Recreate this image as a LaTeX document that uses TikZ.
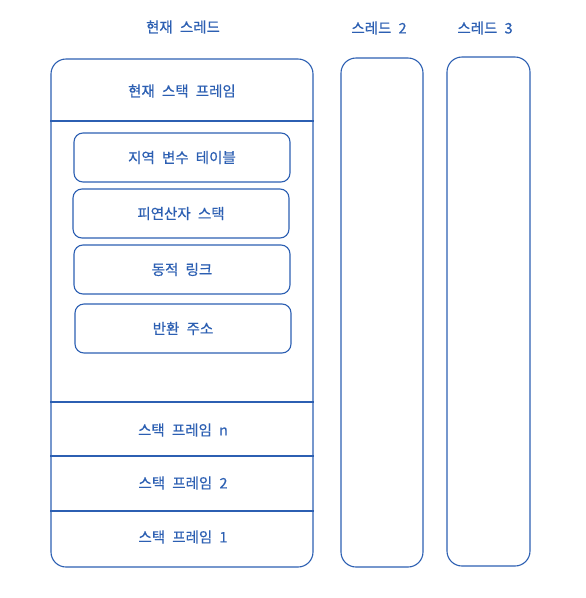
\documentclass[tikz,border=0pt]{standalone}
\usepackage{fontspec}
\newfontfamily\krfont[FakeBold=0.5,WordSpace=2.2]{Noto Sans CJK KR}
\definecolor{lineblue}{RGB}{44,95,178}

\begin{document}
\begin{tikzpicture}[x=1pt,y=-1pt,
    lbl/.style={text=lineblue,font=\krfont\fontsize{14.5}{16}\selectfont},
    thread/.style={draw=lineblue,line width=1.1pt,rounded corners=15pt,inner sep=0pt},
    part/.style={draw=lineblue,line width=1.1pt,rounded corners=9pt,inner sep=0pt,
        minimum width=216pt,minimum height=49pt,text=lineblue,
        font=\krfont\fontsize{14.5}{16}\selectfont}]
    \useasboundingbox (0,0) rectangle (586,598);

    % Titles
    \node (t1) [lbl] at (183,27) {현재 스레드};
    \node (t2) [lbl] at (379,28) {스레드 2};
    \node (t3) [lbl] at (485,28) {스레드 3};

    % Threads
    \node (cur) [thread,minimum width=262pt,minimum height=508pt] at (182,313) {};
    \node (th2) [thread,minimum width=82pt,minimum height=509pt] at (382,312.5) {};
    \node (th3) [thread,minimum width=83pt,minimum height=509pt] at (488.5,311.5) {};

    % Frame separators
    \foreach \ypos in {121, 402, 456, 511}
    {
      \draw [draw=lineblue,line width=1.1pt] (cur.west |- 0,\ypos) -- (cur.east |- 0,\ypos);
    };

    % Frame labels
    \node (fcur) [lbl] at (182,91) {현재 스택 프레임};
    \node (fn) [lbl] at (183,430) {스택 프레임 n};
    \node (f2) [lbl] at (183,483) {스택 프레임 2};
    \node (f1) [lbl] at (183,537) {스택 프레임 1};

    % Inside current frame
    \node (locals) [part] at (182,157.5) {지역 변수 테이블};
    \node (operands) [part] at (181,213.5) {피연산자 스택};
    \node (dynlink) [part] at (182,269.5) {동적 링크};
    \node (retaddr) [part] at (183,328.5) {반환 주소};

\end{tikzpicture}
\end{document}
